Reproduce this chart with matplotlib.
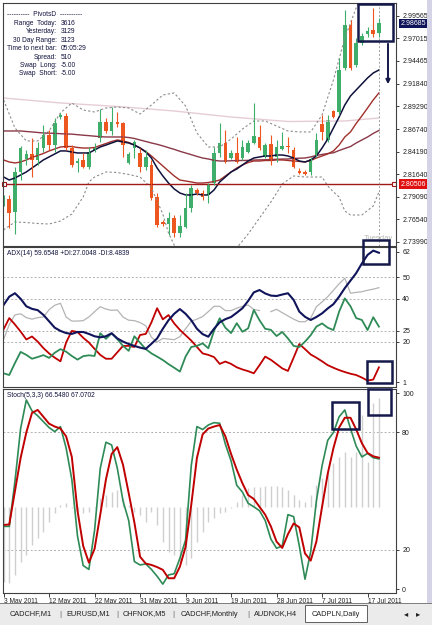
import numpy as np
import matplotlib
matplotlib.use('Agg')
import matplotlib.pyplot as plt
from matplotlib.patches import Rectangle, FancyArrowPatch

plt.rcParams['font.family'] = ['Liberation Sans', 'DejaVu Sans']

# CADPLN daily bars (3 May - 19 Jul 2011)
opens = [2.78371, 2.78823, 2.77352, 2.81878, 2.83350, 2.83915, 2.83236, 2.84594, 2.86065, 2.84934,
         2.88102, 2.88215, 2.84594, 2.82897, 2.83236, 2.82444, 2.84368, 2.85726, 2.87536, 2.86518,
         2.87536, 2.87423, 2.82897, 2.84594, 2.84029, 2.82444, 2.82671, 2.79049, 2.76220, 2.75994,
         2.76673, 2.74976, 2.75655, 2.77805, 2.79842, 2.79502, 2.79276, 2.80634, 2.84029, 2.85160,
         2.83463, 2.84029, 2.83463, 2.84142, 2.85160, 2.85839, 2.83576, 2.85047, 2.83576, 2.84481,
         2.84821, 2.84368, 2.81992, 2.81878, 2.81878, 2.83802, 2.87310, 2.85500, 2.88781, 2.88668,
         2.93647, 2.98513, 2.93987, 2.96476, 2.97495, 2.97947, 2.97608]
highs = [2.79276, 2.79276, 2.82444, 2.84821, 2.84368, 2.85726, 2.85273, 2.87197, 2.86631, 2.87989,
         2.88555, 2.88555, 2.84934, 2.83463, 2.84029, 2.84707, 2.85160, 2.89008, 2.87989, 2.89234,
         2.88668, 2.87536, 2.84142, 2.85500, 2.84594, 2.84368, 2.83236, 2.79502, 2.76447, 2.77352,
         2.77013, 2.77013, 2.79502, 2.80407, 2.80068, 2.79842, 2.80634, 2.84707, 2.87423, 2.86631,
         2.84368, 2.85839, 2.85500, 2.85500, 2.89687, 2.87197, 2.85160, 2.86065, 2.85500, 2.86405,
         2.85839, 2.84707, 2.82331, 2.82105, 2.83576, 2.86292, 2.88329, 2.88329, 2.88894, 2.94779,
         3.00210, 2.99079, 2.97042, 2.97608, 2.98287, 3.00437, 2.99305]
lows = [2.78031, 2.75542, 2.74863, 2.80973, 2.82671, 2.81313, 2.82671, 2.84142, 2.84368, 2.84142,
        2.87876, 2.84368, 2.82444, 2.81878, 2.82331, 2.82218, 2.84142, 2.85273, 2.86292, 2.86065,
        2.86971, 2.83576, 2.82784, 2.83463, 2.81878, 2.82105, 2.78710, 2.75655, 2.75768, 2.74749,
        2.74523, 2.74523, 2.75542, 2.77352, 2.79276, 2.78710, 2.78371, 2.80407, 2.83576, 2.82897,
        2.83350, 2.82897, 2.83236, 2.84029, 2.85047, 2.84368, 2.83463, 2.82671, 2.83010, 2.84368,
        2.84029, 2.82331, 2.81652, 2.81539, 2.81539, 2.83576, 2.85500, 2.85273, 2.87989, 2.88329,
        2.93421, 2.93421, 2.93760, 2.96250, 2.97155, 2.97155, 2.97155]
closes = [2.78936, 2.77239, 2.81878, 2.84594, 2.83915, 2.83236, 2.84594, 2.86065, 2.84934, 2.87423,
          2.88329, 2.84594, 2.82671, 2.83123, 2.82444, 2.84142, 2.84707, 2.87536, 2.86518, 2.87536,
          2.87310, 2.84934, 2.83915, 2.85273, 2.82444, 2.83576, 2.78936, 2.75881, 2.75994, 2.76673,
          2.74976, 2.75768, 2.77805, 2.80068, 2.79502, 2.79049, 2.80407, 2.84029, 2.85160, 2.83010,
          2.84029, 2.83010, 2.84707, 2.85160, 2.85952, 2.84594, 2.84934, 2.83236, 2.84707, 2.84821,
          2.84707, 2.82444, 2.81765, 2.81652, 2.83350, 2.85500, 2.86405, 2.87763, 2.88102, 2.93421,
          2.98513, 2.93647, 2.96476, 2.97268, 2.97834, 2.97495, 2.98685]

ma_fast = [2.8131, 2.8097, 2.8120, 2.8154, 2.8188, 2.8233, 2.8278, 2.8324, 2.8358, 2.8392,
           2.8426, 2.8426, 2.8414, 2.8403, 2.8403, 2.8403, 2.8437, 2.8471, 2.8493, 2.8516,
           2.8539, 2.8527, 2.8516, 2.8493, 2.8459, 2.8414, 2.8346, 2.8233, 2.8143, 2.8063,
           2.7996, 2.7950, 2.7928, 2.7928, 2.7939, 2.7928, 2.7928, 2.7984, 2.8075, 2.8131,
           2.8188, 2.8222, 2.8267, 2.8312, 2.8346, 2.8358, 2.8369, 2.8369, 2.8380, 2.8380,
           2.8369, 2.8346, 2.8312, 2.8301, 2.8324, 2.8369, 2.8459, 2.8561, 2.8686, 2.8810,
           2.8946, 2.9048, 2.9116, 2.9184, 2.9252, 2.9308, 2.9342]
ma_mid = [2.8324, 2.8301, 2.8290, 2.8301, 2.8324, 2.8352, 2.8375, 2.8397, 2.8426, 2.8448,
          2.8471, 2.8476, 2.8476, 2.8465, 2.8459, 2.8459, 2.8465, 2.8488, 2.8510, 2.8533,
          2.8550, 2.8539, 2.8522, 2.8493, 2.8459, 2.8420, 2.8369, 2.8312, 2.8256, 2.8199,
          2.8143, 2.8097, 2.8086, 2.8075, 2.8063, 2.8063, 2.8069, 2.8080, 2.8097, 2.8143,
          2.8188, 2.8233, 2.8267, 2.8295, 2.8312, 2.8312, 2.8318, 2.8318, 2.8324, 2.8324,
          2.8318, 2.8312, 2.8307, 2.8301, 2.8318, 2.8346, 2.8369, 2.8392, 2.8426, 2.8493,
          2.8584, 2.8641, 2.8737, 2.8822, 2.8912, 2.9003, 2.9082]
ma_slow = [2.8652, 2.8652, 2.8652, 2.8652, 2.8646, 2.8641, 2.8635, 2.8629, 2.8627, 2.8625,
           2.8621, 2.8618, 2.8616, 2.8610, 2.8604, 2.8599, 2.8593, 2.8587, 2.8584, 2.8584,
           2.8584, 2.8584, 2.8578, 2.8567, 2.8550, 2.8533, 2.8516, 2.8501, 2.8483, 2.8463,
           2.8444, 2.8422, 2.8403, 2.8384, 2.8364, 2.8346, 2.8335, 2.8320, 2.8312, 2.8312,
           2.8315, 2.8317, 2.8318, 2.8319, 2.8323, 2.8325, 2.8326, 2.8329, 2.8332, 2.8334,
           2.8335, 2.8341, 2.8344, 2.8346, 2.8358, 2.8375, 2.8386, 2.8397, 2.8405, 2.8431,
           2.8454, 2.8476, 2.8516, 2.8550, 2.8584, 2.8624, 2.8658]
ma_long_idx = [0, 10, 20, 30, 40, 50, 60, 66]
ma_long = [2.9025, 2.8969, 2.8929, 2.8878, 2.8810, 2.8759, 2.8765, 2.8799]

band_up_idx = [0, 2, 4, 6, 8, 10, 12, 14, 16, 18, 20, 22, 24, 26, 28, 30, 32, 34, 36, 38,
               40, 42, 44, 46, 48, 50, 52, 54, 56, 58, 60, 62, 64]
band_up = [2.9003, 2.8686, 2.8539, 2.8539, 2.8652, 2.8856, 2.8969, 2.8889, 2.8867, 2.8912,
           2.8923, 2.8912, 2.8844, 2.8946, 2.9059, 2.9082, 2.8935, 2.8629, 2.8471, 2.8471,
           2.8561, 2.8674, 2.8765, 2.8765, 2.8708, 2.8652, 2.8641, 2.8641, 2.8833, 2.9229,
           2.9704, 3.0044, 3.0361]
band_lo_idx = [0, 1, 2, 4, 6, 8, 10, 12, 14, 15, 16, 18, 20, 22, 24, 26, 28, 29, 30, 31,
               35, 40, 41, 43, 45, 47, 49, 51, 53, 55, 56, 57, 58, 59, 60, 61, 63, 65, 66]
band_lo = [2.7532, 2.7577, 2.7622, 2.7616, 2.7605, 2.7599, 2.7633, 2.7712, 2.7905, 2.8075,
           2.8131, 2.8188, 2.8182, 2.8160, 2.8131, 2.8007, 2.7712, 2.7498, 2.7362, 2.7249,
           2.7079, 2.7249, 2.7328, 2.7486, 2.7667, 2.7848, 2.8052, 2.8143, 2.8131, 2.8131,
           2.8131, 2.8029, 2.7962, 2.7905, 2.7747, 2.7701, 2.7701, 2.7803, 2.7962]

pivot_level = 2.80506
last_price = 2.98685
price_ticks = [2.99565, 2.97015, 2.94465, 2.91840, 2.89290, 2.86740, 2.84190, 2.81640,
               2.79090, 2.76540, 2.73990]

adx = [37.1, 41, 42.6, 40, 36.5, 35.3, 34.7, 32.5, 29.5, 26.5, 25, 24, 23.6, 24.5, 24.5, 23.6,
       22.5, 22, 22.5, 23.9, 21.5, 20, 18.9, 18, 17.2, 16.6, 19, 21.5, 26, 30, 33, 35.2, 33, 30,
       26, 23.5, 22.3, 26, 29, 30.5, 31.5, 33.5, 35.6, 39, 43, 44.1, 42.5, 41.5, 41.3, 42, 42.6,
       39.5, 34, 31.6, 30.1, 31.5, 33.2, 35.5, 37.5, 41, 45, 48.5, 52, 56.5, 60.5, 62.5, 61.5]
plus_di = [5.2, 4.4, 10, 15.2, 13.8, 12, 12.8, 13.7, 12.4, 14.8, 16.5, 15.3, 13.3, 11.6, 13.2,
           13.6, 13.3, 23.9, 21.3, 23.9, 21.2, 18, 15.7, 22.5, 19.5, 16.5, 14.5, 13, 11.4, 9.5,
           7.8, 6.0, 13, 17.5, 18, 19.2, 16.9, 25, 30.9, 26.5, 24, 28.6, 24.6, 26.2, 34.8, 30,
           26, 25.5, 22.6, 24.5, 21.5, 18, 17.5, 20, 23, 27, 28.5, 26.5, 25.4, 34, 40.2, 36.5,
           31, 30.1, 25.4, 31.4, 27.0]
minus_di = [25.7, 31, 28, 24.7, 21, 22.4, 20, 17, 14.5, 12.5, 10.8, 19.6, 25, 24.5, 21.8, 19.6,
            16.6, 13.8, 12, 12, 15, 18, 18, 17.5, 23.1, 23.6, 29, 35.6, 30.4, 32.4, 28.5, 25.5,
            23, 20.5, 17.5, 14.5, 13.8, 12.8, 9.6, 10.7, 9.6, 8, 7, 6.2, 5.2, 9, 13, 11.5, 9.5,
            7.5, 6.3, 12.5, 18.9, 16.5, 14, 12.5, 10.8, 9, 7.8, 6.7, 5.8, 5, 4.4, 3.2, 1.8, 2.3, 8]
adx_grey = [21, 28, 32.5, 33, 31.2, 30.5, 31.2, 31.5, 34.9, 37, 37.9, 31.5, 29.6, 29.6, 29.8,
            31.5, 34, 36.3, 35.2, 34.6, 34.8, 31.5, 30, 29.8, 28.9, 27.4, 22, 19.8, 21.5, 21.2,
            20.9, 22.3, 26, 29.5, 30.5, 31.7, 34, 36.5, 36.5, 34.5, 34.5, 35.6, 36.5, 37.1, 35,
            34.5, np.nan, 34, 35.1, 33.5, 32, 30.5, 29.3, 29.3, 31, 36.3, 38.5, 41, 44, 47, 49.6,
            42.6, 43, 43.3, 44, 44.5, 45.2]

stoch_k = [32, 32, 55, 82, 96.6, 91, 88.5, 85.5, 82.5, 80.4, 83, 72, 56, 27, 12, 10, 30, 61.7,
           75, 73.6, 61.7, 45, 35, 14, 12.3, 12.8, 10, 6.5, 2.5, 7.2, 7.8, 15.7, 25, 63, 83, 81.5,
           83.8, 85, 84.7, 74, 65.5, 53, 49.5, 43.8, 42, 40, 35, 25.5, 20.8, 22, 38, 37, 22, 5,
           19, 45, 63, 76, 80, 88, 91.5, 82, 73, 67.5, 69.3, 67.1, 66.5]
stoch_d = [32.7, 33, 50, 67, 80, 90, 91.5, 88, 84.5, 83, 82, 78, 67.5, 40, 22, 13.5, 20.5, 38,
           56, 69, 72.5, 63.5, 49, 34, 16.5, 13, 12.3, 11.2, 9.8, 5.5, 5.5, 11.4, 21.5, 43, 67,
           79, 82, 83, 83.8, 78, 69, 61, 54, 48, 46, 42, 38, 32, 24.2, 21, 28, 33.5, 31.5, 18.2,
           14.5, 24.2, 42, 59, 72, 82.5, 87.5, 87.5, 81.5, 74.5, 69.5, 67.8, 67.1]
hist_base = 42.07
hist = [3.8, 2.9, 7.2, 14.0, 17.4, 22.5, 25.9, 29.3, 34.4, 38.7, 42.9, 43.8, 41.2, 39.5, 38.7,
        39.5, 41.2, 46.3, 48.0, 49.7, 50.6, 46.3, 42.9, 39.5, 37.8, 34.4, 39.5, 32.7, 24.2, 19.1,
        17.4, 14.0, 12.3, 15.7, 24.2, 29.3, 34.4, 36.1, 38.7, 39.5, 41.2, 44.6, 48.0, 51.4, 52.3,
        52.3, 52.6, 52.6, 52.8, 52.3, 50.6, 48.0, 45.5, 44.6, 48.0, 53.1, 56.5, 60.0, 64.2, 67.6,
        70.2, 67.6, 70.2, 88.9, 65.1, 94.9, 97.4]

date_idx = [0, 8, 16, 24, 32, 40, 48, 56, 64]
date_labels = ['3 May 2011', '12 May 2011', '22 May 2011', '31 May 2011', '9 Jun 2011',
               '19 Jun 2011', '28 Jun 2011', '7 Jul 2011', '17 Jul 2011']
tabs = ['CADCHF,M1', 'EURUSD,M1', 'CHFNOK,M5', 'CADCHF,Monthly', 'AUDNOK,H4', 'CADPLN,Daily']

GREEN = '#3fae6a'
ORANGE = '#ee561f'
NAVY = '#15194a'
RED = '#c00000'
FS = 5.0
FS_SMALL = 4.8
W, H = 432, 625

fig = plt.figure(figsize=(W / 100, H / 100), dpi=100)


def px_axes(x0, y0, x1, y1):
    return fig.add_axes([x0 / W, 1 - y1 / H, (x1 - x0) / W, (y1 - y0) / H])


ax1 = px_axes(3, 3, 396, 245.5)
ax2 = px_axes(3, 247.5, 396, 386.5)
ax3 = px_axes(3, 388.5, 396, 593)

for ax in (ax1, ax2, ax3):
    ax.set_xlim(-0.1, 69)
    for s in ax.spines.values():
        s.set_color('#404040')
        s.set_linewidth(0.8)
    ax.yaxis.tick_right()
    ax.tick_params(axis='y', length=2.5, width=0.6, pad=2, labelsize=FS, colors='#202020')
    ax.tick_params(axis='x', bottom=False, labelbottom=False)

# ---- main price panel
x = np.arange(len(closes))
o = np.array(opens)
c = np.array(closes)
col = np.where(c >= o, GREEN, ORANGE)
ax1.plot(ma_long_idx, ma_long, color='#e6cdd5', lw=1.0)
ax1.plot(band_up_idx, band_up, color='#8c8c8c', lw=0.8, ls=(0, (2, 2)))
ax1.plot(band_lo_idx, band_lo, color='#8c8c8c', lw=0.8, ls=(0, (2, 2)))
ax1.plot(x, ma_slow, color='#8a3848', lw=1.0)
ax1.plot(x, ma_mid, color='#a0302c', lw=1.0)
ax1.plot(x, ma_fast, color='#10123c', lw=1.1)
ax1.axhline(pivot_level, color='#a01818', lw=1.0)
ax1.axvline(66, color='#a0a0a0', lw=0.7, ls=(0, (2, 2)))
ax1.vlines(x, lows, highs, colors=col, lw=0.8)
ax1.bar(x, np.maximum(np.abs(c - o), 0.0007), bottom=np.minimum(o, c), width=0.62,
        color=col, linewidth=0)
ax1.plot([0.15, 68.6], [pivot_level, pivot_level], ls='none', marker='s', ms=3,
         mfc='white', mec='#a01818', mew=0.8, clip_on=False)
ax1.set_ylim(2.7356, 3.0100)
ax1.set_yticks(price_ticks)
ax1.set_yticklabels(['%.5f' % v for v in price_ticks])

for val, bg in ((last_price, '#10145a'), (pivot_level, '#e01010')):
    ax1.annotate('%.5f' % val, xy=(1.0, val), xycoords=('axes fraction', 'data'),
                 xytext=(3, 0), textcoords='offset points', va='center', ha='left',
                 fontsize=FS, color='white', annotation_clip=False,
                 bbox=dict(boxstyle='square,pad=0.2', fc=bg, ec='none'))

info = [('Range  Today:', '3616'), ('Yesterday:', '3129'), ('30 Day Range:', '3123'),
        ('Time to next bar:', '05:05:29'), ('Spread:', '510'), ('Swap  Long:', '-5.00'),
        ('Swap  Short:', '-5.00')]
tr = ax1.transAxes
ax1.text((45 - 3) / 393, (245.5 - 15) / 242.5, '----------  PivotsD  ----------', transform=tr,
         ha='center', va='center', fontsize=FS_SMALL, color='#10123c')
for k, (lab, val) in enumerate(info):
    yy = (245.5 - (23.5 + 8.4 * k)) / 242.5
    ax1.text((57 - 3) / 393, yy, lab, transform=tr, ha='right', va='center',
             fontsize=FS_SMALL, color='#10123c')
    ax1.text((61 - 3) / 393, yy, val, transform=tr, ha='left', va='center',
             fontsize=FS_SMALL, color='#10123c')
ax1.text((364 - 3) / 393, (245.5 - 239) / 242.5, 'Tuesday', transform=tr, ha='left',
         va='center', fontsize=FS + 0.5, color='#b8b8b8')

# ---- ADX panel
for lv in (50, 40, 25, 20):
    ax2.axhline(lv, color='#b0b0b0', lw=0.7, ls=(0, (2, 2)))
ax2.plot(x, adx_grey, color='#b4b4b4', lw=0.9)
ax2.plot(x, minus_di, color=RED, lw=1.3)
ax2.plot(x, plus_di, color='#2e8b57', lw=1.3)
ax2.plot(x, adx, color='#10145a', lw=1.5)
ax2.set_ylim(-0.96, 63.96)
ax2.set_yticks([62, 50, 40, 25, 20, 1])
ax2.text(0.0102, 0.985, 'ADX(14) 59.6548 +DI:27.0048 -DI:8.4839', transform=ax2.transAxes,
         ha='left', va='top', fontsize=FS_SMALL, color='#10123c')

# ---- Stochastic panel
for lv in (80, 20):
    ax3.axhline(lv, color='#b0b0b0', lw=0.7, ls=(0, (2, 2)))
ax3.vlines(x, hist_base, hist, colors='#cfcfcf', lw=1.0)
ax3.plot(x, stoch_k, color='#2e8b57', lw=1.2)
ax3.plot(x, stoch_d, color=RED, lw=1.4)
ax3.set_ylim(-2.04, 102.45)
ax3.set_yticks([100, 80, 20, 0])
ax3.text(0.0102, 0.985, 'Stoch(5,3,3) 66.5480 67.0702', transform=ax3.transAxes,
         ha='left', va='top', fontsize=FS_SMALL, color='#10123c')
ax3.set_xticks(date_idx)
ax3.set_xticklabels(date_labels)
ax3.tick_params(axis='x', bottom=True, labelbottom=True, length=3, width=0.6, pad=0.5,
                labelsize=FS_SMALL, colors='#202020')
for t in ax3.get_xticklabels():
    t.set_ha('left')


# ---- annotation boxes (drawn in figure pixels)
def fig_rect(x0, y0, x1, y1, **kw):
    fig.add_artist(Rectangle((x0 / W, 1 - y1 / H), (x1 - x0) / W, (y1 - y0) / H,
                             transform=fig.transFigure, **kw))


for bx in ((358, 4, 393, 41), (363, 240, 389, 264), (367, 361, 392, 383),
           (332, 402, 359, 429), (368, 389, 391, 415)):
    fig_rect(*bx, fill=False, ec=NAVY, lw=1.8)
fig.add_artist(FancyArrowPatch((388 / W, 1 - 41 / H), (388 / W, 1 - 87 / H),
                               transform=fig.transFigure, arrowstyle='-|>',
                               mutation_scale=6, color=NAVY, lw=1.4))

# ---- tab strip and window edges
fig_rect(0, 603, W, H, fc='#ebebeb', ec='none')
fig_rect(0, 602.5, W, 603.5, fc='#808080', ec='none')
fig_rect(305, 605, 367, 622, fc='white', ec='#606060', lw=0.7)
fig_rect(427, 0, W, 603, fc='#d4d4e6', ec='none')
tab_x = [31, 88, 144, 209, 276, 336]
for tx, name in zip(tab_x, tabs):
    fig.text(tx / W, 1 - 614 / H, name, ha='center', va='center', fontsize=5.3,
             color='#202020')
for sx in (60, 117, 173, 248):
    fig.text(sx / W, 1 - 614 / H, '|', ha='center', va='center', fontsize=6,
             color='#606060')
fig.text(406 / W, 1 - 614 / H, '\u25c2', ha='center', va='center', fontsize=6,
         family='DejaVu Sans', color='#202020')
fig.text(418 / W, 1 - 614 / H, '\u25b8', ha='center', va='center', fontsize=6,
         family='DejaVu Sans', color='#202020')

fig.savefig('out.png', dpi=100, facecolor='white')
